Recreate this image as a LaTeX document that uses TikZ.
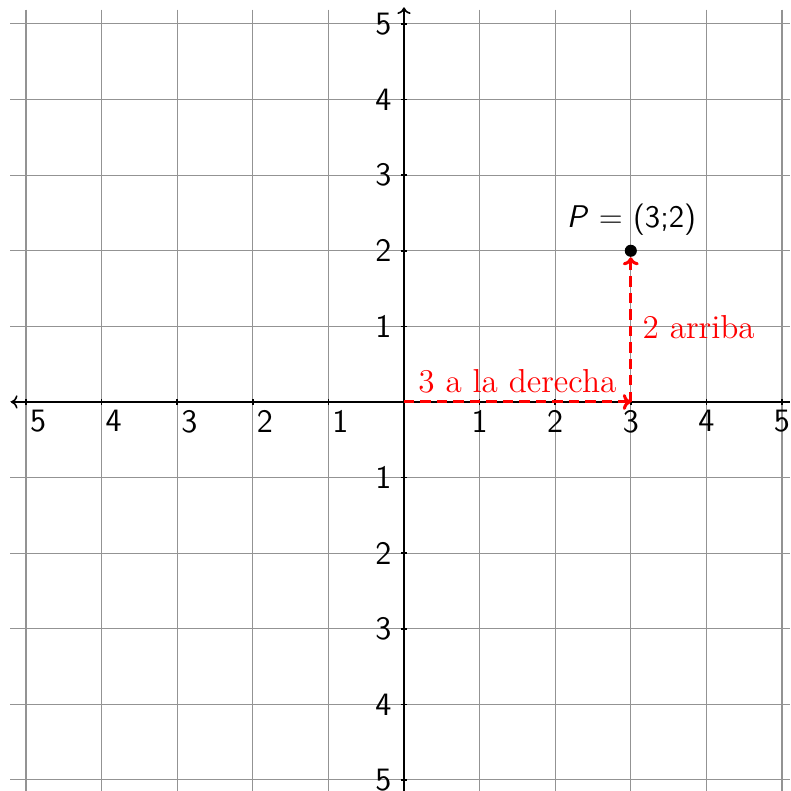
\documentclass[tikz,border=0pt]{standalone}
\usetikzlibrary{arrows.meta}
\begin{document}
\begin{tikzpicture}[x=1cm,y=1cm,
  gridline/.style={gray!85, line width=0.38pt},
  axisline/.style={black, line width=0.6pt},
  ticklab/.style={font=\fontsize{12.3}{14}\sffamily, inner sep=0pt},
  steplab/.style={font=\fontsize{12.5}{14}\selectfont, text=red, inner sep=0pt},
  walk/.style={red, line width=1.15pt, dash pattern=on 3.9pt off 2.3pt, -{To[length=3pt,width=6pt]}}
]
\useasboundingbox (-5.344,-5.146) rectangle (5.106,5.317);
% grid
\foreach \i in {-5,...,5}{
  \draw[gridline] (\i,5.19) -- (\i,-5.146);
  \draw[gridline] (-5.21,\i) -- (5.106,\i);
}
% axes
\draw[axisline, {To[length=2.5pt,width=5pt]}-] (-5.2,0) -- (5.106,0);
\draw[axisline, -{To[length=2.5pt,width=5pt]}] (0,-5.146) -- (0,5.22);
\foreach \i in {-5,...,-1,1,2,...,5}{
  \draw[axisline] (\i,-0.04) -- (\i,0.04);
  \draw[axisline] (-0.04,\i) -- (0.04,\i);
}
% x labels
\foreach \i in {1,...,5}{
  \node[ticklab, anchor=north] (xp\i) at (\i,-0.1) {\i};
}
\foreach \i in {1,...,5}{
  \node[ticklab, anchor=north] (xn\i) at (-\i+0.16,-0.1) {\i};
}
% y labels
\foreach \i in {1,...,5}{
  \node[ticklab, anchor=east] (yp\i) at (-0.16,\i) {\i};
  \node[ticklab, anchor=east] (yn\i) at (-0.16,-\i) {\i};
}
% point
\coordinate (O) at (0,0);
\coordinate (A) at (3,0);
\node[circle, fill=black, inner sep=0pt, minimum size=0.16cm] (P) at (3,2) {};
\node[ticklab, font=\fontsize{11.8}{14}\sffamily, anchor=south] (Plab) at (3.01,2.2) {\textit{P} = (3;2)};
% walk
\draw[walk] (O) -- (A);
\draw[walk] (A) -- (P);
\node[steplab] (lx) at (1.5,0.27) {3 a la derecha};
\node[steplab, anchor=west] (ly) at (3.15,0.99) {2 arriba};
\end{tikzpicture}
\end{document}
